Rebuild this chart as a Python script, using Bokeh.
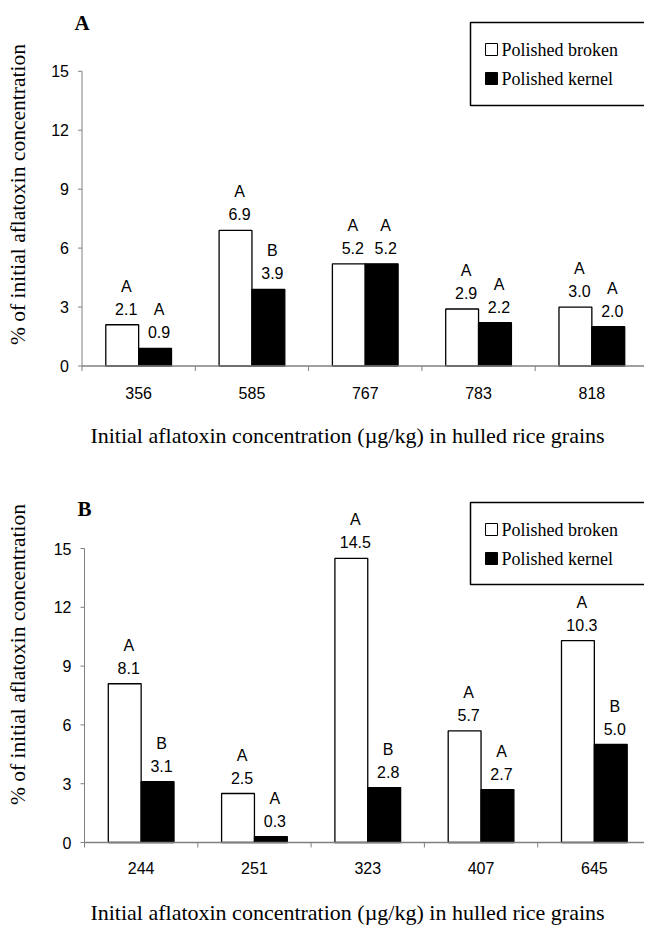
import math
from bokeh.plotting import figure
from bokeh.layouts import column
from bokeh.models import ColumnDataSource, Range1d
from bokeh.core.properties import value
from bokeh.embed import file_html
from bokeh.resources import INLINE

# ---- data ----
cats_a = ["356", "585", "767", "783", "818"]
broken_a = [2.1, 6.9, 5.2, 2.9, 3.0]
kernel_a = [0.9, 3.9, 5.2, 2.2, 2.0]
let_broken_a = ["A", "A", "A", "A", "A"]
let_kernel_a = ["A", "B", "A", "A", "A"]

cats_b = ["244", "251", "323", "407", "645"]
broken_b = [8.1, 2.5, 14.5, 5.7, 10.3]
kernel_b = [3.1, 0.3, 2.8, 2.7, 5.0]
let_broken_b = ["A", "A", "A", "A", "A"]
let_kernel_b = ["B", "A", "B", "A", "B"]

y_ticks = [0, 3, 6, 9, 12, 15]
y_tick_labels = [str(t) for t in y_ticks]
x_title = "Initial aflatoxin concentration (\u00b5g/kg) in hulled rice grains"
y_title = "% of initial aflatoxin concentration"
series_names = ["Polished broken", "Polished kernel"]
series_fills = ["white", "black"]

SANS = "Liberation Sans"
SERIF = "Liberation Serif"
GREY = "#808080"
BAR_W = 0.29
CAT_PX = 113.3
FIG_W = 644
PAGE_X0 = 4


def make_panel(tag, cats, broken, kernel, lb, lk, fig_top, height, axis_x, zero_y, pu,
               cat_dy, tag_y, ytitle_y, xtitle_y, legend_top, legend_bottom, legend_rows):
    # layout helpers: page pixel -> data units
    def X(px):
        return (px - axis_x) / CAT_PX

    def Y(py):
        return (zero_y - py) / pu

    p = figure(width=FIG_W, height=height, output_backend="svg", toolbar_location=None,
               x_range=Range1d(X(PAGE_X0), X(PAGE_X0 + FIG_W)),
               y_range=Range1d(Y(fig_top + height), Y(fig_top)),
               min_border_left=0, min_border_right=0, min_border_top=0,
               min_border_bottom=0, x_axis_location=None, y_axis_location=None)
    p.outline_line_color = None
    p.xgrid.grid_line_color = None
    p.ygrid.grid_line_color = None
    p.background_fill_color = "white"
    p.border_fill_color = "white"

    n = len(cats)
    centers = [i + 0.5 for i in range(n)]
    bounds = list(range(n + 1))
    xb = [c - BAR_W / 2 for c in centers]
    xk = [c + BAR_W / 2 for c in centers]
    src_b = ColumnDataSource(dict(x=xb, top=broken,
                                  val=[f"{v:.1f}" for v in broken], let=lb))
    src_k = ColumnDataSource(dict(x=xk, top=kernel,
                                  val=[f"{v:.1f}" for v in kernel], let=lk))

    p.vbar(x="x", top="top", width=BAR_W, bottom=0, source=src_b,
           fill_color=series_fills[0], line_color="black", line_width=1.3)
    p.vbar(x="x", top="top", width=BAR_W, bottom=0, source=src_k,
           fill_color=series_fills[1], line_color="black", line_width=1.3)

    for src in (src_b, src_k):
        p.text(x="x", y="top", text="val", source=src, text_align="center",
               text_baseline="bottom", x_offset=4, y_offset=-10,
               text_font=value(SANS), text_font_size="16px", text_color="black")
        p.text(x="x", y="top", text="let", source=src, text_align="center",
               text_baseline="bottom", x_offset=4, y_offset=-30,
               text_font=value(SANS), text_font_size="16px", text_color="black")

    # y axis drawn at x = 0
    tick_len = 4 / CAT_PX
    p.segment(x0=[0], y0=[0], x1=[0], y1=[y_ticks[-1]], line_color=GREY, line_width=1)
    p.segment(x0=[0] * len(y_ticks), y0=y_ticks, x1=[-tick_len] * len(y_ticks), y1=y_ticks,
              line_color=GREY, line_width=1)
    p.text(x=[0] * len(y_ticks), y=y_ticks, text=y_tick_labels, text_align="right",
           text_baseline="middle", x_offset=-13,
           text_font=value(SANS), text_font_size="16px", text_color="black")
    p.text(x=[X(21)], y=[Y(ytitle_y)], text=[y_title], angle=math.pi / 2,
           text_align="center", text_baseline="middle",
           text_font=value(SERIF), text_font_size="21.5px", text_color="black")

    # x axis drawn at y = 0
    x_end = X(PAGE_X0 + FIG_W)
    p.segment(x0=[0], y0=[0], x1=[x_end], y1=[0], line_color=GREY, line_width=1.5)
    xt_len = 5 / pu
    p.segment(x0=bounds, y0=[0] * len(bounds), x1=bounds, y1=[-xt_len] * len(bounds),
              line_color=GREY, line_width=1)
    p.text(x=centers, y=[0] * n, text=cats, text_align="center", text_baseline="middle",
           y_offset=cat_dy, text_font=value(SANS), text_font_size="16px", text_color="black")
    p.text(x=[X(351)], y=[Y(xtitle_y)], text=[x_title], text_align="center",
           text_baseline="middle", text_font=value(SERIF), text_font_size="22px",
           text_color="black")

    # panel tag
    p.text(x=[0], y=[Y(tag_y)], text=[tag], text_align="center", text_baseline="middle",
           text_font=value(SERIF), text_font_style="bold", text_font_size="21px",
           text_color="black")

    # legend box (right edge runs past the page edge, as in the original)
    p.quad(left=[X(474)], right=[X(PAGE_X0 + FIG_W + 30)], top=[Y(legend_top)],
           bottom=[Y(legend_bottom)], fill_color="white", line_color="black", line_width=1.5)
    p.scatter(x=[X(495)] * 2, y=[Y(r) for r in legend_rows], marker="square", size=12,
              fill_color=series_fills, line_color="black", line_width=1)
    p.text(x=[X(505)] * 2, y=[Y(r) for r in legend_rows], text=series_names,
           text_align="left", text_baseline="middle", text_font=value(SERIF),
           text_font_size="18px", text_color="black")
    return p


pa = make_panel("A", cats_a, broken_a, kernel_a, let_broken_a, let_kernel_a,
                fig_top=0, height=461, axis_x=85.5, zero_y=365.5, pu=19.65,
                cat_dy=26.5, tag_y=22, ytitle_y=194, xtitle_y=435,
                legend_top=22, legend_bottom=105, legend_rows=[49, 78])
pb = make_panel("B", cats_b, broken_b, kernel_b, let_broken_b, let_kernel_b,
                fig_top=461, height=465, axis_x=88, zero_y=842, pu=19.6,
                cat_dy=25, tag_y=508, ytitle_y=654, xtitle_y=912,
                legend_top=502, legend_bottom=584, legend_rows=[529, 558])

layout = column(pa, pb, spacing=0)
open("out.html", "w").write(file_html(layout, INLINE))
